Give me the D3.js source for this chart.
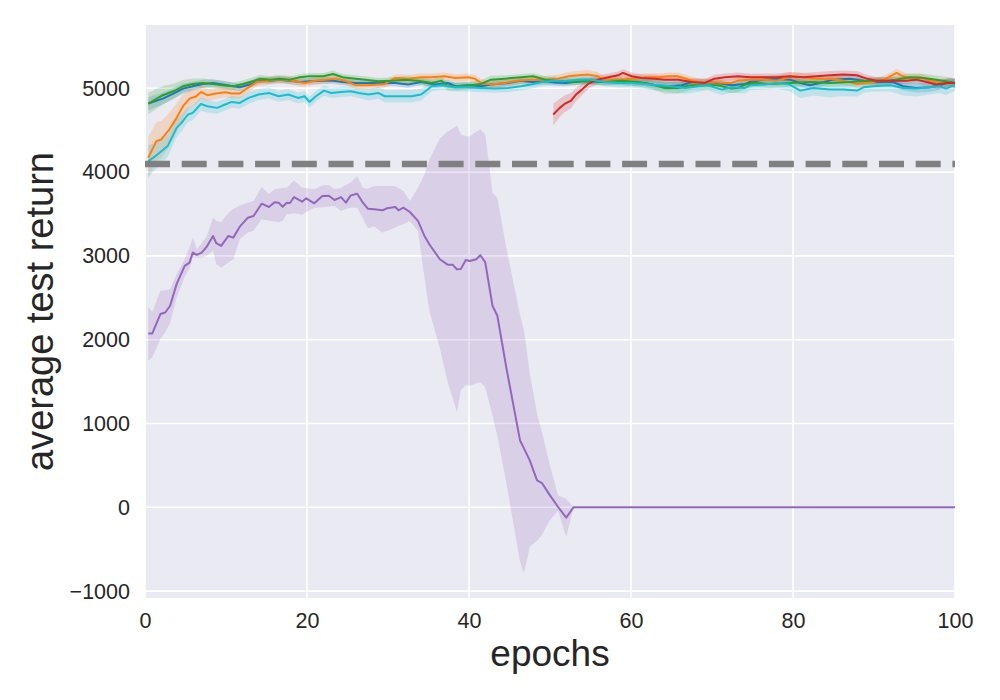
<!DOCTYPE html>
<html>
<head>
<meta charset="utf-8">
<script src="https://cdn.jsdelivr.net/npm/d3@7"></script>
<style>
  html, body { margin: 0; padding: 0; background: #ffffff; }
  svg { display: block; }
  text { font-family: "Liberation Sans", Arial, sans-serif; fill: #262626; }
</style>
</head>
<body>
<svg id="chart" width="1000" height="700"></svg>
<script>
// ---- data: [epoch, mean, halfWidth] ----
const blue = [[0.4,4817,80],[2.2,4877,70],[3.5,4937,65],[4.7,4996,60],[5.9,5024,55],[7.1,5052,50],[8.4,5063,45],[9.6,5044,45],[10.9,5024,45],[11.7,5012,45],[12.9,5044,45],[14.2,5091,40],[15.4,5091,40],[16.6,5103,40],[17.9,5091,40],[19.1,5075,40],[20.3,5083,40],[22.0,5091,40],[23.2,5091,40],[24.4,5075,40],[26.0,5063,40],[28.4,5063,40],[30.9,5063,40],[32.5,5044,40],[34.1,5075,40],[35.8,5044,40],[37.4,5063,40],[38.3,5024,40],[39.9,5036,40],[41.5,5024,40],[42.7,5044,40],[44.8,5063,40],[46.4,5091,40],[47.7,5075,40],[49.4,5083,40],[50.6,5070,40],[51.9,5063,40],[54.3,5091,40],[56.8,5075,40],[58.8,5075,40],[60.1,5063,40],[61.7,5063,40],[63.0,5036,45],[64.6,5024,45],[66.3,5036,45],[67.5,5075,40],[69.1,5075,40],[70.7,5063,40],[72.4,5036,45],[74.1,5052,40],[74.7,5075,40],[76.4,5103,40],[78.0,5115,40],[79.6,5103,45],[80.9,5063,45],[82.1,5036,45],[83.3,5063,45],[85.0,5103,45],[87.0,5115,45],[88.7,5091,45],[90.3,5075,45],[92.3,5075,45],[93.6,5024,50],[95.2,5004,55],[96.9,5012,55],[98.1,5036,55],[99.4,5075,55],[100,5063,55]];

const orange = [[0.4,4170,250],[1.4,4369,230],[2.0,4389,220],[3.0,4508,200],[3.9,4647,175],[4.7,4786,140],[5.5,4877,110],[6.3,4901,90],[6.9,4956,80],[7.7,4917,70],[8.7,4937,65],[9.9,4952,60],[10.7,4937,60],[11.7,4937,55],[12.8,5012,55],[13.8,5075,50],[14.8,5083,50],[16.0,5103,50],[17.3,5103,50],[18.5,5083,50],[19.8,5063,50],[21.0,5091,45],[22.3,5103,45],[23.5,5115,45],[24.7,5091,45],[26.0,5036,45],[27.6,5036,45],[29.6,5052,45],[30.9,5123,45],[32.5,5115,45],[34.1,5131,45],[35.4,5131,45],[37.0,5143,45],[38.3,5123,45],[39.9,5131,45],[40.7,5115,45],[41.5,5063,45],[42.7,5044,45],[44.4,5063,45],[46.0,5091,45],[47.7,5103,45],[49.4,5103,45],[51.0,5115,50],[52.3,5143,50],[53.5,5155,55],[54.7,5163,55],[55.9,5143,50],[56.6,5103,50],[58.4,5103,45],[60.1,5115,45],[61.7,5131,45],[63.4,5131,45],[64.6,5143,45],[65.8,5143,45],[67.1,5103,45],[68.3,5075,45],[69.9,5075,45],[71.6,5063,45],[72.4,5063,45],[73.2,5091,45],[74.5,5103,45],[76.4,5103,50],[78.0,5091,60],[79.6,5131,60],[81.3,5131,50],[82.9,5115,45],[84.6,5115,45],[86.2,5091,45],[87.9,5052,45],[89.9,5075,45],[91.2,5103,45],[92.0,5143,45],[92.8,5183,50],[93.6,5143,50],[94.4,5123,45],[95.7,5131,45],[96.9,5091,45],[98.1,5063,45],[99.4,5063,45],[100,5063,45]];

const green = [[0.4,4817,130],[2.2,4917,110],[3.5,4964,90],[4.7,5024,75],[5.9,5052,65],[7.1,5063,55],[8.4,5052,50],[9.6,5036,50],[10.9,5024,45],[12.1,5052,45],[13.3,5083,45],[14.2,5115,45],[15.4,5103,40],[16.6,5115,40],[17.9,5103,40],[19.1,5131,40],[20.3,5143,40],[22.0,5143,40],[23.2,5171,40],[24.4,5131,40],[26.0,5115,40],[27.2,5103,40],[28.8,5083,40],[30.5,5091,40],[32.1,5103,40],[33.7,5090,45],[35.4,5063,45],[36.6,5091,45],[37.4,5024,50],[38.7,5024,50],[40.3,5036,45],[41.5,5052,45],[42.7,5103,45],[44.4,5115,40],[46.4,5131,40],[47.9,5143,40],[49.4,5103,40],[50.6,5091,40],[51.9,5083,40],[53.1,5075,40],[54.7,5083,40],[56.8,5075,40],[58.8,5091,45],[60.9,5075,50],[62.6,5044,60],[64.2,5004,70],[65.8,5004,70],[67.5,5036,55],[69.1,5036,50],[70.7,5036,50],[72.4,4996,55],[73.2,5004,55],[74.1,5044,50],[75.3,5063,45],[77.2,5052,45],[79.6,5063,45],[82.1,5075,45],[84.6,5063,45],[87.0,5075,45],[89.5,5091,45],[91.9,5091,45],[94.4,5131,45],[96.1,5123,50],[97.7,5103,50],[99.4,5075,55],[100,5052,55]];

const red = [[50.4,4687,130],[51.2,4766,110],[51.8,4813,100],[52.6,4853,90],[53.2,4925,80],[53.8,4972,70],[54.7,5052,60],[55.9,5103,50],[57.2,5131,45],[58.4,5155,45],[59.0,5183,45],[60.1,5143,45],[61.3,5123,45],[62.9,5115,45],[64.2,5103,45],[65.8,5103,45],[67.5,5075,45],[69.1,5063,45],[70.3,5115,45],[71.6,5131,45],[73.2,5143,45],[74.7,5131,45],[76.4,5131,45],[78.0,5131,45],[79.6,5143,50],[81.3,5131,50],[82.9,5143,50],[84.6,5155,50],[86.2,5163,50],[87.9,5155,50],[89.1,5115,45],[90.3,5091,45],[92.3,5091,45],[94.0,5091,45],[95.2,5103,45],[96.5,5075,50],[97.7,5044,55],[98.9,5063,55],[100,5063,55]];

const cyan = [[0.4,4131,190],[1.0,4170,170],[1.8,4230,150],[2.8,4310,130],[3.9,4528,110],[4.5,4587,100],[5.3,4687,90],[5.9,4706,85],[6.9,4813,80],[7.7,4786,75],[8.9,4766,70],[9.9,4806,70],[10.7,4837,70],[11.7,4825,70],[12.8,4885,70],[14.0,4925,65],[15.3,4944,65],[16.5,4905,65],[17.7,4925,65],[18.9,4885,65],[19.7,4905,65],[20.3,4837,65],[21.1,4905,65],[22.1,4972,60],[23.0,4944,60],[24.2,4956,60],[25.4,4964,60],[26.4,4944,60],[27.6,4925,70],[28.8,4944,70],[29.6,4905,75],[30.9,4905,75],[32.9,4905,75],[34.1,4925,70],[35.4,5024,60],[36.6,5036,55],[38.3,5012,50],[39.9,5012,50],[41.5,5004,50],[43.1,4996,50],[44.8,5004,50],[46.4,5024,50],[47.7,5044,50],[49.0,5075,50],[50.6,5091,50],[51.5,5083,50],[53.5,5103,50],[55.1,5103,50],[56.8,5075,50],[58.4,5063,55],[60.1,5063,55],[61.7,5052,60],[63.4,5036,65],[65.0,5024,70],[66.7,5004,70],[68.3,5024,65],[69.5,5036,60],[71.2,4984,65],[72.4,5012,65],[74.1,5004,65],[74.7,5036,60],[76.4,5044,60],[78.0,5063,70],[79.6,5044,80],[80.9,4972,90],[82.5,5004,90],[84.6,4984,90],[86.2,4984,80],[87.9,4972,70],[88.7,5012,65],[89.9,5024,65],[92.0,5036,75],[93.6,5004,90],[95.2,4996,95],[96.9,5012,85],[98.1,5024,80],[98.9,4996,80],[100,5044,75]];

// purple: [epoch, mean, low, high]
const purple = [[0.4,2075,1750,2393],[0.9,2075,1790,2330],[1.9,2306,2008,2583],[2.5,2325,2090,2590],[3.1,2405,2200,2603],[3.9,2663,2500,2782],[4.9,2881,2750,2960],[5.5,2920,2850,3100],[5.9,3040,2980,3218],[6.4,3012,2980,3079],[7.0,3040,2980,3150],[7.6,3107,3000,3230],[8.4,3238,3060,3456],[8.8,3151,2900,3420],[9.4,3119,2861,3400],[10.3,3238,2920,3516],[10.9,3218,2960,3560],[11.7,3349,3200,3600],[12.7,3456,3280,3635],[13.4,3476,3300,3655],[14.4,3623,3437,3821],[15.3,3583,3420,3740],[16.0,3639,3410,3794],[16.5,3635,3400,3800],[17.0,3587,3420,3810],[17.5,3635,3496,3813],[17.9,3631,3500,3850],[18.4,3702,3510,3901],[19.4,3647,3490,3813],[19.9,3687,3520,3810],[20.9,3627,3575,3794],[21.9,3714,3580,3840],[22.7,3718,3590,3845],[23.4,3667,3595,3794],[24.2,3702,3536,3810],[24.8,3635,3560,3845],[25.4,3722,3575,3880],[26.2,3742,3575,3952],[26.9,3635,3450,3813],[27.5,3563,3330,3800],[28.3,3556,3350,3833],[29.3,3544,3278,3833],[29.9,3568,3300,3833],[30.9,3583,3340,3833],[31.3,3544,3360,3810],[31.9,3575,3377,3774],[32.7,3524,3417,3655],[33.7,3417,3298,3813],[34.5,3238,2742,3972],[35.1,3139,2345,4150],[36.4,2960,1900,4400],[37.4,2893,1480,4488],[38.0,2893,1300,4520],[38.5,2841,1135,4556],[39.0,2845,1400,4450],[39.6,2952,1460,4429],[40.1,2940,1452,4429],[40.9,2960,1480,4480],[41.4,3008,1492,4508],[42.0,2925,1433,4450],[42.9,2405,1100,3754],[43.5,2286,850,3694],[44.6,1671,300,3100],[46.3,798,-650,2300],[46.8,700,-790,2100],[47.5,560,-470,1600],[48.4,321,-400,1115],[49.0,290,-330,900],[50.0,143,-150,500],[51.0,4,-40,140],[52.0,-123,-353,103],[52.9,0,0,0],[100,0,0,0]];

const baseline = 4095;
const xTicks = [0, 20, 40, 60, 80, 100];
const yTicks = [-1000, 0, 1000, 2000, 3000, 4000, 5000];

// ---- layout ----
const svg = d3.select("#chart");
const L = 145, R = 955, T = 25, B = 598;
const x = d3.scaleLinear().domain([0, 100]).range([L, R]);
const y = d3.scaleLinear().domain([-1082, 5755]).range([B, T]);
const fmt = d3.format("d");

svg.append("rect").attr("x", L).attr("y", T).attr("width", R - L).attr("height", B - T).attr("fill", "#EAEAF2");

// grid
const grid = svg.append("g");
grid.selectAll(".gx").data(xTicks).join("line")
  .attr("x1", d => x(d)).attr("x2", d => x(d)).attr("y1", T).attr("y2", B)
  .attr("stroke", "#fff").attr("stroke-width", 1.6);
grid.selectAll(".gy").data(yTicks).join("line")
  .attr("y1", d => y(d)).attr("y2", d => y(d)).attr("x1", L).attr("x2", R)
  .attr("stroke", "#fff").attr("stroke-width", 1.6);

// axes
const xAxis = svg.append("g").attr("transform", `translate(0,${B})`)
  .call(d3.axisBottom(x).tickValues(xTicks).tickFormat(fmt).tickSize(0).tickPadding(15));
const yAxis = svg.append("g").attr("transform", `translate(${L},0)`)
  .call(d3.axisLeft(y).tickValues(yTicks).tickFormat(d => fmt(d).replace("-", "\u2212")).tickSize(0).tickPadding(15));
[xAxis, yAxis].forEach(a => {
  a.select(".domain").remove();
  a.selectAll("text").attr("fill", "#262626").style("font-size", "21.5px")
    .style("font-family", '"Liberation Sans", Arial, sans-serif');
});

// clip
svg.append("clipPath").attr("id", "clip").append("rect")
  .attr("x", L).attr("y", T).attr("width", R - L).attr("height", B - T);
const plot = svg.append("g").attr("clip-path", "url(#clip)");

const series = [
  {data: blue, color: "#1f77b4"},
  {data: orange, color: "#ff7f0e"},
  {data: green, color: "#2ca02c"},
  {data: red, color: "#d62728"},
  {data: purple, color: "#9467bd", asym: true},
  {data: cyan, color: "#17becf"}
];

const bands = plot.append("g");
const lines = plot.append("g");
series.forEach(s => {
  const area = d3.area()
    .x(d => x(d[0]))
    .y0(d => y(s.asym ? d[2] : d[1] - d[2]))
    .y1(d => y(s.asym ? d[3] : d[1] + d[2]));
  bands.append("path").datum(s.data).attr("d", area)
    .attr("fill", s.color).attr("fill-opacity", 0.2).attr("stroke", "none");
});
series.forEach(s => {
  const line = d3.line().x(d => x(d[0])).y(d => y(d[1]));
  lines.append("path").datum(s.data).attr("d", line)
    .attr("fill", "none").attr("stroke", s.color).attr("stroke-width", 2)
    .attr("stroke-linejoin", "round");
});

// dashed reference line
plot.append("line")
  .attr("x1", x(0)).attr("x2", x(100)).attr("y1", y(baseline)).attr("y2", y(baseline))
  .attr("stroke", "#808080").attr("stroke-width", 6.5).attr("stroke-dasharray", "25,11.7");

// axis labels
svg.append("text").attr("x", (L + R) / 2).attr("y", 666).attr("text-anchor", "middle")
  .style("font-size", "37px").text("epochs");
svg.append("text").attr("transform", `translate(53,${(T + B) / 2}) rotate(-90)`)
  .attr("text-anchor", "middle").style("font-size", "38px").text("average test return");
</script>
</body>
</html>
